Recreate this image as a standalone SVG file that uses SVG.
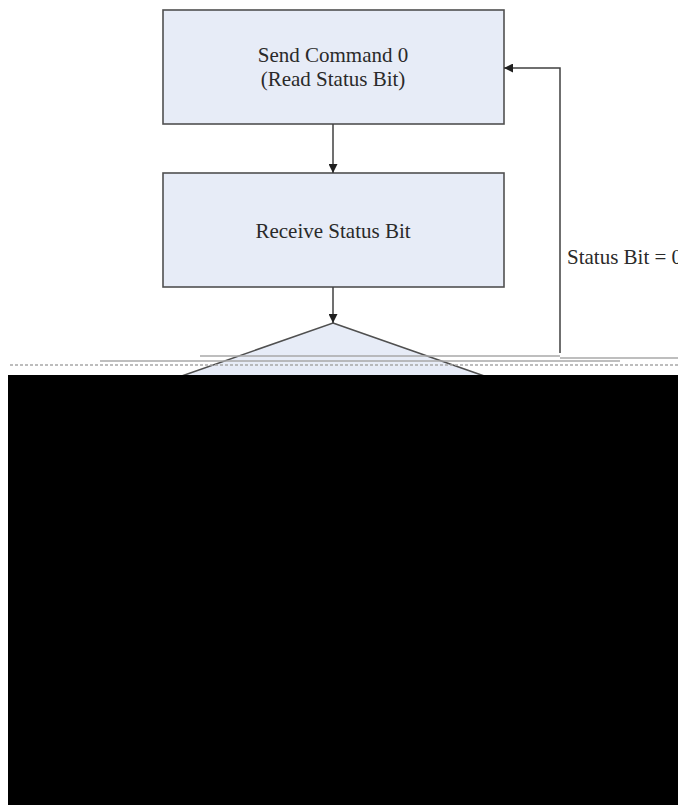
<svg xmlns="http://www.w3.org/2000/svg" width="678" height="805" viewBox="0 0 678 805">
<style>
.box{fill:#e7ecf7;stroke:#505050;stroke-width:1.6}
.t{font-family:"Liberation Serif","Times New Roman",serif;font-size:21px;fill:#2a2a2a}
.c{fill:none;stroke:#404040;stroke-width:1.5}
.band{stroke:#a8a8a8;stroke-width:1.5}
</style>
<defs>
<marker id="ah" viewBox="0 0 10 10" refX="10" refY="5" markerWidth="9" markerHeight="9" markerUnits="userSpaceOnUse" orient="auto">
<path d="M0,0 L10,5 L0,10 z" fill="#202020"/>
</marker>
</defs>
<rect width="678" height="805" fill="#ffffff"/>
<g id="send-command">
<rect class="box" x="163" y="10" width="341" height="114"/>
<text class="t" x="333" y="62" text-anchor="middle">Send Command 0</text>
<text class="t" x="333" y="86" text-anchor="middle">(Read Status Bit)</text>
</g>
<g id="receive-status">
<rect class="box" x="163" y="173" width="341" height="114"/>
<text class="t" x="333" y="238" text-anchor="middle">Receive Status Bit</text>
</g>
<g id="decision">
<polygon class="box" points="333,323 490,378 333,433 176,378"/>
</g>
<g id="connectors">
<line class="c" x1="333" y1="124" x2="333" y2="173" marker-end="url(#ah)"/>
<line class="c" x1="333" y1="287" x2="333" y2="323" marker-end="url(#ah)"/>
<polyline class="c" points="560,353 560,68 504,68" marker-end="url(#ah)"/>
<text class="t" x="567" y="264">Status Bit = 0</text>
</g>
<g id="damaged-area">
<line class="band" x1="200" y1="356" x2="560" y2="356"/>
<line class="band" x1="560" y1="358" x2="678" y2="358"/>
<line class="band" x1="10" y1="365" x2="678" y2="365" stroke-dasharray="3,2"/>
<line class="band" x1="100" y1="361" x2="620" y2="361"/>
<rect x="8" y="375" width="670" height="430" fill="#000000"/>
</g>
</svg>
